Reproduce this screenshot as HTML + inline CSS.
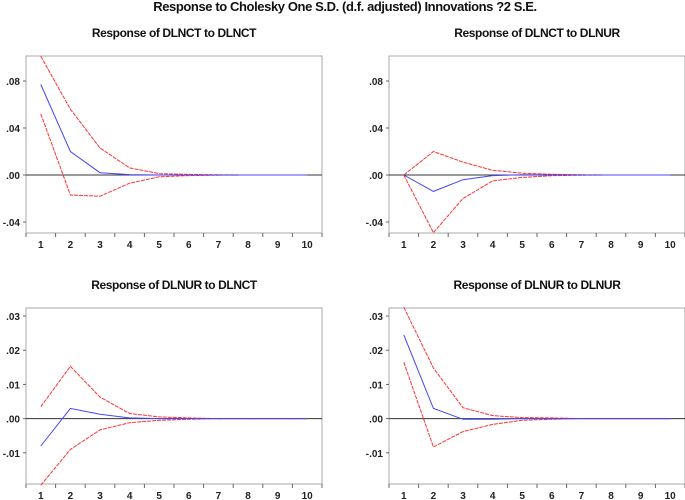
<!DOCTYPE html>
<html><head><meta charset="utf-8"><style>
html,body{margin:0;padding:0;background:#fff;}
svg{display:block;font-family:"Liberation Sans",Arial,sans-serif;}
</style></head><body>
<svg id="c" width="685" height="500" viewBox="0 0 685 500">
<text x="345" y="11" text-anchor="middle" font-size="13" font-weight="bold" fill="#111" letter-spacing="-0.4">Response to Cholesky One S.D. (d.f. adjusted) Innovations ?2 S.E.</text>
</svg>
<script>
const periods = [1,2,3,4,5,6,7,8,9,10];
const tlResp  = [0.077,0.020,0.002,0.0003,0,0,0,0,0,0];
const tlUpper = [0.101,0.056,0.023,0.006,0.0012,0.0005,0.0002,0,0,0];
const tlLower = [0.052,-0.017,-0.018,-0.007,-0.0015,-0.0005,-0.0002,0,0,0];
const trResp  = [0,-0.014,-0.004,-0.0005,0.0002,0.0002,0,0,0,0];
const trUpper = [0,0.020,0.011,0.004,0.0015,0.0006,0.0002,0,0,0];
const trLower = [0,-0.049,-0.020,-0.005,-0.002,-0.0006,-0.0002,0,0,0];
const blResp  = [-0.008,0.003,0.0013,0.0002,0,0,0,0,0,0];
const blUpper = [0.0035,0.0153,0.0063,0.0015,0.0005,0.0002,0,0,0,0];
const blLower = [-0.0195,-0.0090,-0.0033,-0.0012,-0.0005,-0.0002,0,0,0,0];
const brResp  = [0.0245,0.003,-0.0002,-0.0002,0,0,0,0,0,0];
const brUpper = [0.0326,0.0148,0.0032,0.0009,0.0003,0.0002,0,0,0,0];
const brLower = [0.0165,-0.0083,-0.0038,-0.0017,-0.0005,-0.0002,0,0,0,0];
const topTicks = [0.08,0.04,0,-0.04];
const topTickLabels = [".08",".04",".00","-.04"];
const botTicks = [0.03,0.02,0.01,0,-0.01];
const botTickLabels = [".03",".02",".01",".00","-.01"];

const svg = document.getElementById('c');
const NS = 'http://www.w3.org/2000/svg';
function mk(tag, attrs, parent){
  const e = document.createElementNS(NS, tag);
  for (const k in attrs) e.setAttribute(k, attrs[k]);
  (parent||svg).appendChild(e);
  return e;
}
function panel(key, title, x0, y0, y1, vTop, vBot, ticks, tickLabels, resp, up, lo){
  const w = 296, band = w/periods.length;
  const g = mk('g', {});
  
  
  const xs = i => x0 + band*(i+0.5);
  const ys = v => y0 + (vTop - v)/(vTop - vBot)*(y1 - y0);
  const t = mk('text', {x: x0 + w/2, y: y0 - 19, 'text-anchor':'middle', 'font-size':'12', 'font-weight':'bold', fill:'#111', 'letter-spacing':'-0.4'}, g);
  t.textContent = title;
  
  
  const box = mk('rect', {x:x0, y:y0, width:w, height:y1-y0, fill:'none', stroke:'#a8a8a8', 'stroke-width':'1'}, g);
  
  
  ticks.forEach((v,i)=>{
    const y = ys(v);
    const tk = mk('line', {x1:x0-3, x2:x0, y1:y, y2:y, stroke:'#666'}, g);
    
    
    const lb = mk('text', {x:x0-6, y:y+4, 'text-anchor':'end', 'font-size':'10', 'font-weight':'bold', fill:'#222'}, g);
    lb.textContent = tickLabels[i];
    
    
  });
  for (let i=0;i<=periods.length;i++){
    const x = x0 + band*i;
    const tk = mk('line', {x1:x, x2:x, y1:y1, y2:y1+4, stroke:'#666'}, g);
    
    
  }
  periods.forEach((p,i)=>{
    const lb = mk('text', {x:xs(i), y:y1+15, 'text-anchor':'middle', 'font-size':'10', 'font-weight':'bold', fill:'#222'}, g);
    lb.textContent = p;
    
    
  });
  const z = mk('line', {x1:x0, x2:x0+w, y1:ys(0), y2:ys(0), stroke:'#333', 'stroke-width':'1'}, g);
  
  
  const pts = arr => arr.map((v,i)=>xs(i).toFixed(1)+','+ys(v).toFixed(1)).join(' ');
  const u = mk('polyline', {points:pts(up), fill:'none', stroke:'#f33', 'stroke-width':'1', 'stroke-dasharray':'4,1'}, g);
  
  
  const l = mk('polyline', {points:pts(lo), fill:'none', stroke:'#f33', 'stroke-width':'1', 'stroke-dasharray':'4,1'}, g);
  
  
  const r = mk('polyline', {points:pts(resp), fill:'none', stroke:'#44f', 'stroke-width':'1'}, g);
  
  
}
const topTop = 0.08 + 25/47*0.04, topBot = 0 - 58/47*0.04;
const botTop = 0.03 + 8/34*0.01, botBot = -0.01 - 31/34*0.01;
panel('dlnct-to-dlnct','Response of DLNCT to DLNCT',26,56,233,topTop,topBot,topTicks,topTickLabels,tlResp,tlUpper,tlLower);
panel('dlnct-to-dlnur','Response of DLNCT to DLNUR',389,56,233,topTop,topBot,topTicks,topTickLabels,trResp,trUpper,trLower);
panel('dlnur-to-dlnct','Response of DLNUR to DLNCT',26,308,484,botTop,botBot,botTicks,botTickLabels,blResp,blUpper,blLower);
panel('dlnur-to-dlnur','Response of DLNUR to DLNUR',389,308,484,botTop,botBot,botTicks,botTickLabels,brResp,brUpper,brLower);
</script>
</body></html>
